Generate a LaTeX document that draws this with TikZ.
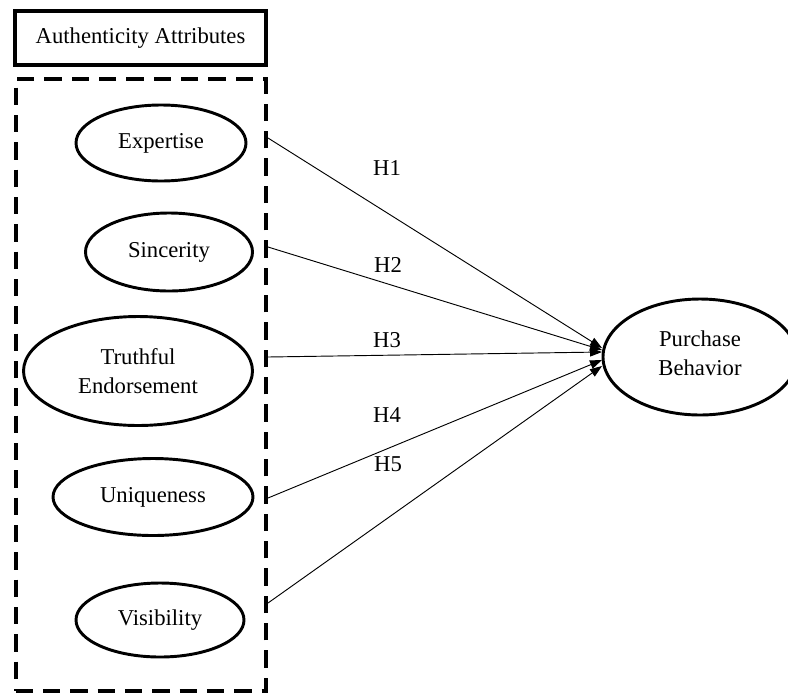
\documentclass[tikz,border=0pt]{standalone}
\usepackage{fontspec}
\setmainfont{Liberation Serif}
\usetikzlibrary{shapes.geometric,arrows.meta}
\begin{document}
\begin{tikzpicture}[x=0.75pt,y=-0.75pt,
  every node/.style={font=\fontsize{17}{21.5}\selectfont},
  attr/.style={draw,ellipse,line width=2.2pt,inner sep=0pt,align=center},
  link/.style={line width=0.7pt,-{Triangle[length=9pt,width=6.5pt]}},
  hyp/.style={inner sep=1pt}]
\useasboundingbox (0,0) rectangle (788,693);
\node[draw,line width=2.3pt,minimum width=251pt*0.75,minimum height=54pt*0.75,inner sep=0pt] (title) at (140.5,38) {Authenticity Attributes};
\node[draw,line width=3pt,dash pattern=on 13pt off 7.5pt,minimum width=250pt*0.75,minimum height=612pt*0.75,inner sep=0pt] (group) at (140.5,385) {};
\node[attr,minimum width=170pt*0.75,minimum height=76pt*0.75] (exp) at (161,143) {Expertise};
\node[attr,minimum width=167pt*0.75,minimum height=78pt*0.75] (sin) at (169,252) {Sincerity};
\node[attr,minimum width=229pt*0.75,minimum height=109pt*0.75] (tru) at (138,371) {Truthful\\Endorsement};
\node[attr,minimum width=200pt*0.75,minimum height=77pt*0.75] (uni) at (153,497) {Uniqueness};
\node[attr,minimum width=168pt*0.75,minimum height=74pt*0.75] (vis) at (160,620) {Visibility};
\node[attr,minimum width=194pt*0.75,minimum height=116pt*0.75] (pb) at (700,357) {};
\node[align=center,inner sep=0pt] (pbtext) at (700,353) {Purchase\\Behavior};
\coordinate (s1) at (268,138);
\coordinate (s2) at (268,247);
\coordinate (s3) at (268,357);
\coordinate (s4) at (268,498);
\coordinate (s5) at (268,603);
\coordinate (e1) at (602,348);
\coordinate (e2) at (602,350);
\coordinate (e3) at (602,352);
\coordinate (e4) at (602,360);
\coordinate (e5) at (602,366);
\draw[link] (s1) -- (e1);
\draw[link] (s2) -- (e2);
\draw[link] (s3) -- (e3);
\draw[link] (s4) -- (e4);
\draw[link] (s5) -- (e5);
\node[hyp] (h1) at (387,168) {H1};
\node[hyp] (h2) at (388,265) {H2};
\node[hyp] (h3) at (387,340) {H3};
\node[hyp] (h4) at (387,415) {H4};
\node[hyp] (h5) at (388,464) {H5};
\end{tikzpicture}
\end{document}
